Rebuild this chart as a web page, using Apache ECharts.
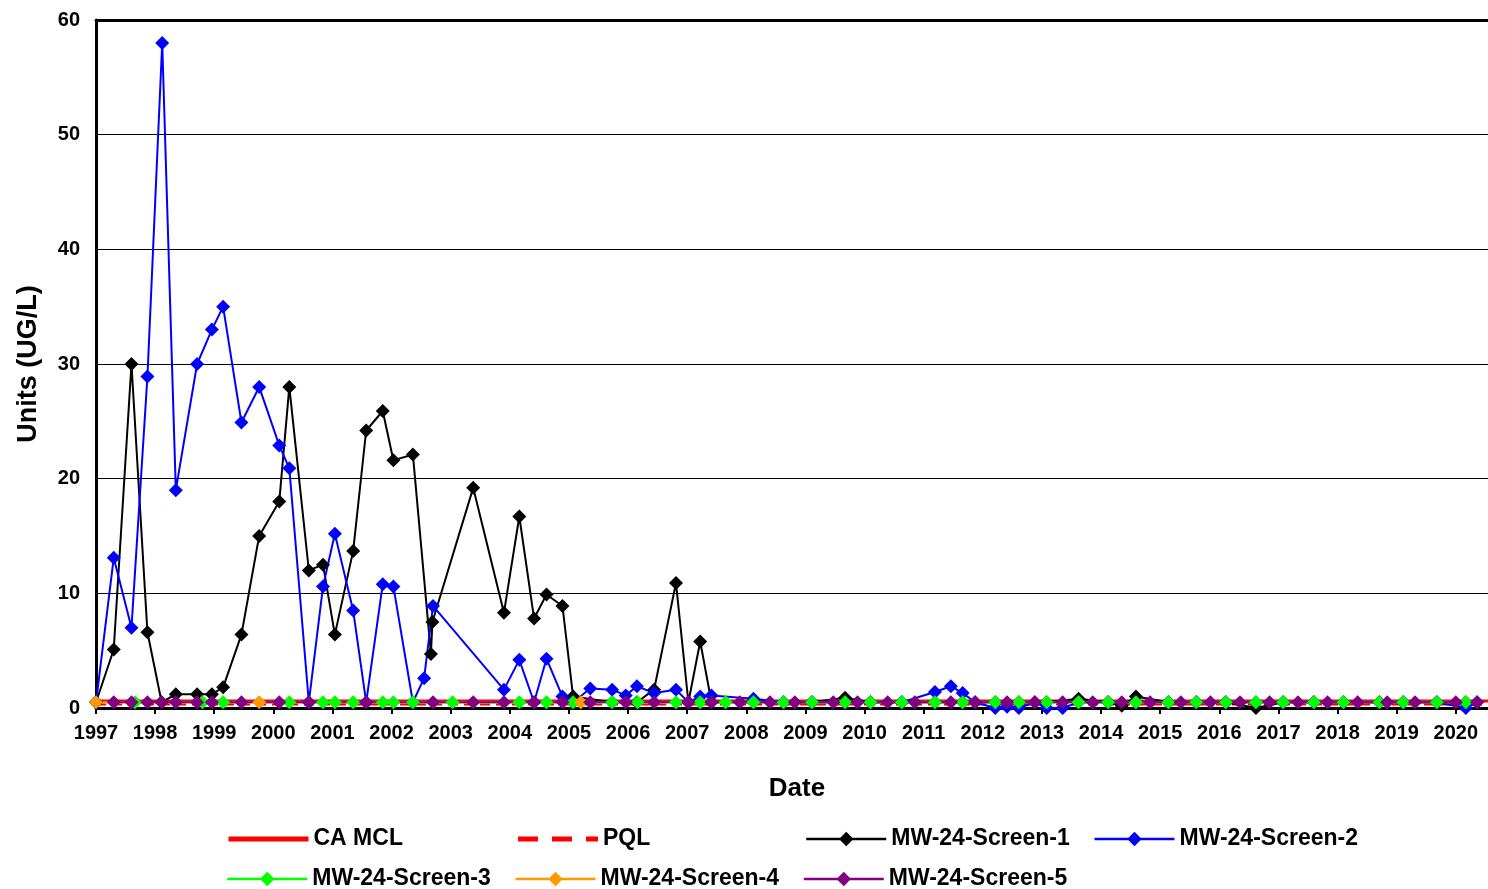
<!DOCTYPE html>
<html>
<head>
<meta charset="utf-8">
<script src="https://cdn.jsdelivr.net/npm/echarts@6/dist/echarts.min.js"></script>
<style>
html,body{margin:0;padding:0;background:#ffffff;}
#chart{width:1488px;height:889px;}
</style>
</head>
<body>
<div id="chart"></div>
<script>
// ---- data (decimal years, values in UG/L) ----
const xMin = 1997;
const xMax = 2020.545;
const limitDates = [1997, 2020.545];
const caMclValues = [0.6, 0.6];
const pqlValues = [0.3, 0.3];

const screen1Dates = [1997.00,1997.30,1997.60,1997.87,1998.11,1998.35,1998.71,1998.96,1999.15,1999.46,1999.76,2000.10,2000.27,2000.60,2000.84,2001.04,2001.35,2001.57,2001.85,2002.03,2002.36,2002.665,2002.69,2003.38,2003.90,2004.16,2004.41,2004.62,2004.89,2005.07,2005.73,2006.15,2006.44,2006.81,2007.02,2007.22,2007.41,2008.12,2008.63,2009.11,2009.67,2010.10,2010.63,2011.19,2011.66,2012.21,2012.61,2013.08,2013.62,2014.12,2014.35,2014.59,2015.14,2015.61,2016.11,2016.62,2017.08,2017.60,2018.10,2018.71,2019.11,2019.68,2020.17];
const screen1Values = [0.5,5.1,30.0,6.6,0.5,1.2,1.2,1.2,1.8,6.4,15.0,18.0,28.0,12.0,12.5,6.4,13.7,24.2,25.9,21.6,22.1,4.7,7.5,19.2,8.3,16.7,7.8,9.9,8.9,1.0,0.5,0.5,1.6,10.9,0.5,5.8,0.5,0.5,0.5,0.5,0.9,0.5,0.5,0.5,0.5,0.5,0.5,0.5,0.8,0.5,0.2,1.0,0.5,0.5,0.5,0.0,0.5,0.5,0.5,0.5,0.5,0.5,0.5];

const screen2Dates = [1997.00,1997.30,1997.60,1997.87,1998.12,1998.35,1998.71,1998.96,1999.15,1999.46,1999.76,2000.10,2000.27,2000.60,2000.84,2001.04,2001.35,2001.57,2001.85,2002.03,2002.36,2002.55,2002.70,2003.90,2004.16,2004.41,2004.62,2004.89,2005.07,2005.36,2005.73,2005.96,2006.15,2006.44,2006.81,2007.02,2007.22,2007.41,2008.12,2008.63,2009.11,2009.67,2010.10,2010.63,2011.19,2011.46,2011.66,2011.87,2012.21,2012.41,2012.61,2012.88,2013.08,2013.35,2013.62,2014.12,2014.59,2015.14,2015.61,2016.11,2016.62,2017.08,2017.60,2018.10,2018.71,2019.11,2019.68,2020.17,2020.36];
const screen2Values = [0.5,13.1,7.0,28.9,58.0,19.0,30.0,33.0,35.0,24.9,28.0,22.9,20.9,0.5,10.6,15.2,8.5,0.5,10.8,10.6,0.5,2.6,8.9,1.6,4.2,0.5,4.3,1.0,0.5,1.7,1.6,1.1,1.9,1.3,1.6,0.5,1.0,1.1,0.8,0.5,0.5,0.5,0.5,0.5,1.4,1.9,1.3,0.5,0.0,0.1,0.0,0.5,0.0,0.0,0.5,0.5,0.5,0.5,0.5,0.5,0.5,0.5,0.5,0.5,0.5,0.5,0.5,0.0,0.5];

const screen3Dates = [1997.66,1998.80,1999.15,2000.27,2000.84,2001.04,2001.35,2001.85,2002.03,2002.36,2003.03,2004.16,2004.62,2005.07,2005.73,2006.16,2006.81,2007.22,2007.65,2008.12,2008.63,2009.11,2009.67,2010.10,2010.63,2011.19,2011.66,2012.21,2012.61,2013.08,2013.62,2014.12,2014.59,2015.14,2015.61,2016.11,2016.62,2017.08,2017.60,2018.10,2018.71,2019.11,2019.68,2020.17];
const screen3Values = [0.5,0.5,0.5,0.5,0.5,0.5,0.5,0.5,0.5,0.5,0.5,0.5,0.5,0.5,0.5,0.5,0.5,0.5,0.5,0.5,0.5,0.5,0.5,0.5,0.5,0.5,0.5,0.5,0.5,0.5,0.5,0.5,0.5,0.5,0.5,0.5,0.5,0.5,0.5,0.5,0.5,0.5,0.5,0.5];

const screen4Dates = [1997.00,1999.76,2005.20];
const screen4Values = [0.5,0.5,0.5];

const screen5Dates = [1997.30,1997.60,1997.87,1998.11,1998.35,1998.71,1998.96,1999.46,2000.10,2000.60,2001.57,2002.70,2003.38,2003.90,2004.41,2004.89,2005.36,2005.96,2006.44,2007.02,2007.41,2007.89,2008.40,2008.82,2009.47,2009.88,2010.39,2010.85,2011.46,2011.87,2012.41,2012.88,2013.35,2013.86,2014.35,2014.83,2015.35,2015.85,2016.35,2016.85,2017.33,2017.83,2018.34,2018.84,2019.31,2020.00,2020.36];
const screen5Values = [0.5,0.5,0.5,0.5,0.5,0.5,0.5,0.5,0.5,0.5,0.5,0.5,0.5,0.5,0.5,0.5,0.5,0.5,0.5,0.5,0.5,0.5,0.5,0.5,0.5,0.5,0.5,0.5,0.5,0.5,0.5,0.5,0.5,0.5,0.5,0.5,0.5,0.5,0.5,0.5,0.5,0.5,0.5,0.5,0.5,0.5,0.5];

const legendRow1 = ['CA MCL','PQL','MW-24-Screen-1','MW-24-Screen-2'];
const legendRow2 = ['MW-24-Screen-3','MW-24-Screen-4','MW-24-Screen-5'];

// ---- build ----
function pairs(d, v){ return d.map((x,i)=>[x, v[i]]); }
const FONT = 'Liberation Sans, Arial, sans-serif';

function markerSeries(name, color, d, v){
  return {
    name: name, type: 'line', data: pairs(d, v),
    symbol: 'diamond', symbolSize: 14, showAllSymbol: true,
    lineStyle: {color: color, width: 2},
    itemStyle: {color: color, borderWidth: 0},
    emphasis: {disabled: true}
  };
}

const legendBase = {
  left: 226, padding: 0, itemWidth: 80, itemHeight: 18, itemGap: 3,
  textStyle: {fontFamily: FONT, fontWeight: 'bold', fontSize: 23, color: '#000', width: 199, lineHeight: 26},
  selectedMode: false
};

function legendItem(n){
  if (n === 'CA MCL') return {name: n, itemStyle: {opacity: 0}, lineStyle: {width: 5}};
  if (n === 'PQL') return {name: n, itemStyle: {opacity: 0}, lineStyle: {width: 5, type: [20, 14]}};
  return {name: n, lineStyle: {width: 2.5}};
}

const chart = echarts.init(document.getElementById('chart'), null, {renderer: 'canvas'});
chart.setOption({
  animation: false,
  backgroundColor: '#ffffff',
  grid: {left: 96, top: 20, right: 0, bottom: 181, containLabel: false},
  legend: [
    Object.assign({}, legendBase, {top: 826, data: legendRow1.map(legendItem)}),
    Object.assign({}, legendBase, {top: 866, data: legendRow2.map(legendItem)})
  ],
  xAxis: [{
    type: 'value', min: xMin, max: xMax, interval: 1,
    axisLine: {show: true, onZero: false, lineStyle: {color: '#000', width: 3}},
    axisTick: {show: true, length: 6, lineStyle: {color: '#000', width: 2}},
    axisLabel: {formatter: v => Number.isInteger(v) ? String(v) : '', showMaxLabel: false, showMinLabel: true,
      fontFamily: FONT, fontWeight: 'bold', fontSize: 20, color: '#000', margin: 15},
    splitLine: {show: false},
    name: 'Date', nameLocation: 'middle', nameGap: 68,
    nameTextStyle: {fontFamily: FONT, fontWeight: 'bold', fontSize: 26, color: '#000', padding: [0, 0, 0, 10]}
  }, {
    type: 'value', position: 'top', min: xMin, max: xMax, interval: 1,
    axisLine: {show: true, onZero: false, lineStyle: {color: '#000', width: 3}},
    axisTick: {show: false}, axisLabel: {show: false}, splitLine: {show: false}
  }],
  yAxis: {
    type: 'value', min: 0, max: 60, interval: 10,
    axisLine: {show: true, onZero: false, lineStyle: {color: '#000', width: 3}},
    axisTick: {show: false},
    axisLabel: {fontFamily: FONT, fontWeight: 'bold', fontSize: 20, color: '#000', margin: 16},
    splitLine: {show: true, lineStyle: {color: '#000', width: 1}},
    name: 'Units (UG/L)', nameLocation: 'middle', nameGap: 54,
    nameTextStyle: {fontFamily: FONT, fontWeight: 'bold', fontSize: 27, color: '#000'}
  },
  series: [
    {name: 'CA MCL', type: 'line', data: pairs(limitDates, caMclValues), symbol: 'none',
      lineStyle: {color: '#FF0000', width: 3}, itemStyle: {color: '#FF0000'}, emphasis: {disabled: true}},
    {name: 'PQL', type: 'line', data: pairs(limitDates, pqlValues), symbol: 'none',
      lineStyle: {color: '#FF0000', width: 2, type: [10, 6]}, itemStyle: {color: '#FF0000'}, emphasis: {disabled: true}},
    markerSeries('MW-24-Screen-1', '#000000', screen1Dates, screen1Values),
    markerSeries('MW-24-Screen-2', '#0000FF', screen2Dates, screen2Values),
    markerSeries('MW-24-Screen-3', '#00FF00', screen3Dates, screen3Values),
    markerSeries('MW-24-Screen-4', '#FF9900', screen4Dates, screen4Values),
    markerSeries('MW-24-Screen-5', '#800080', screen5Dates, screen5Values)
  ]
});
</script>
</body>
</html>
